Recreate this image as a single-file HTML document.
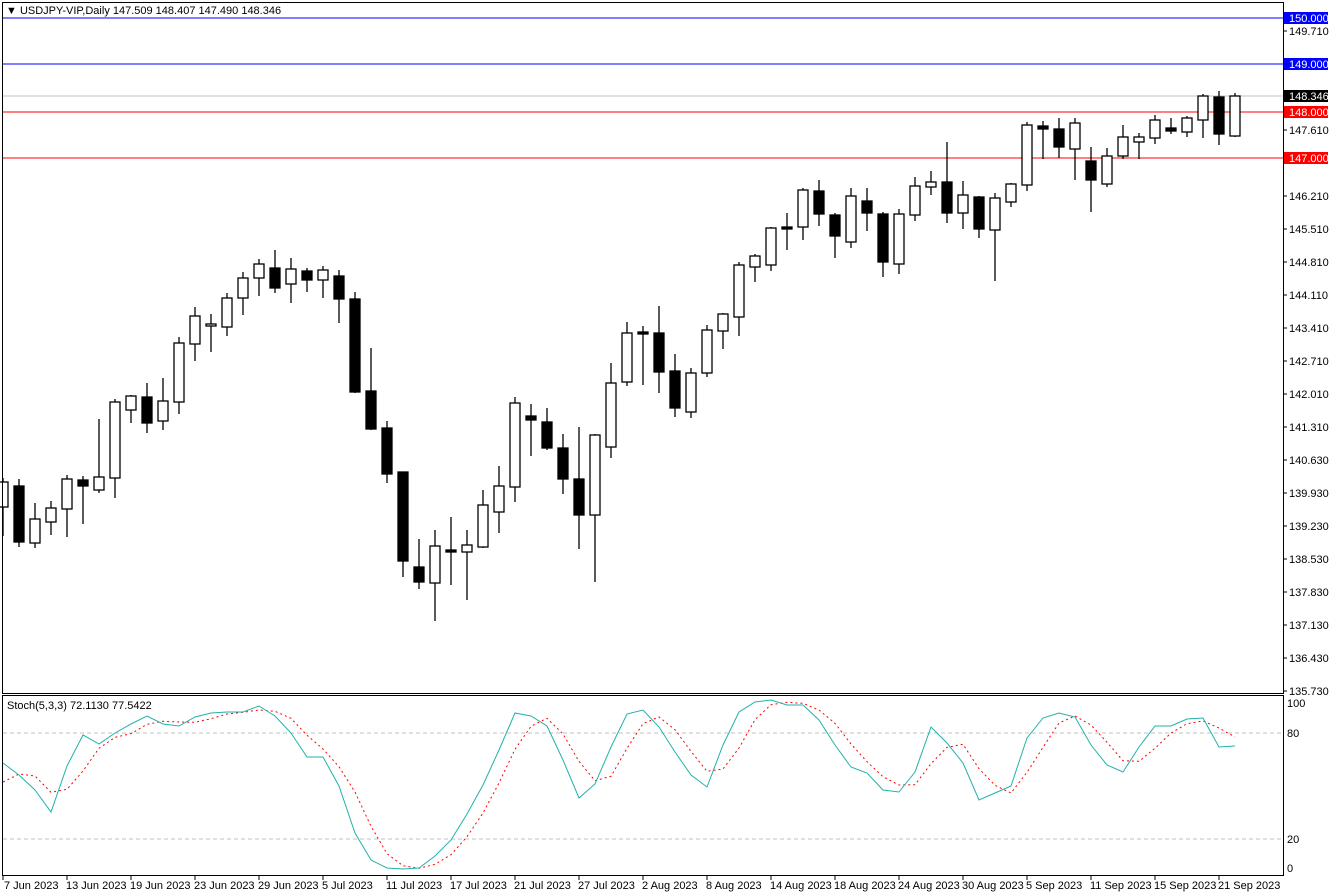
<!DOCTYPE html>
<html><head><meta charset="utf-8"><style>
body{margin:0;background:#fff;}
svg{display:block;font-family:"Liberation Sans",sans-serif;font-size:11px;}
</style></head><body>
<svg id="s" width="1330" height="893" viewBox="0 0 1330 893" xmlns="http://www.w3.org/2000/svg">
<rect width="1330" height="893" fill="#fff"/>
<g id="lines">
<line x1="3" y1="18" x2="1283" y2="18" stroke="#0000ff"/>
<line x1="3" y1="64" x2="1283" y2="64" stroke="#0000ff"/>
<line x1="3" y1="96" x2="1283" y2="96" stroke="#c0c0c0"/>
<line x1="3" y1="112" x2="1283" y2="112" stroke="#ff0000"/>
<line x1="3" y1="158" x2="1283" y2="158" stroke="#ff0000"/>
<line x1="3" y1="733" x2="1283" y2="733" stroke="#c0c0c0" stroke-dasharray="4,3"/>
<line x1="3" y1="839" x2="1283" y2="839" stroke="#c0c0c0" stroke-dasharray="4,3"/>
</g>
<g id="candles"></g>
<g id="stoch"></g>
<rect x="2.5" y="2.5" width="1281" height="691" fill="none" stroke="#000"/>
<rect x="2.5" y="695.5" width="1281" height="180" fill="none" stroke="#000"/>
<text x="6" y="14">▼ USDJPY-VIP,Daily  147.509 148.407 147.490 148.346</text>
<text x="7" y="709">Stoch(5,3,3) 72.1130 77.5422</text>
<g font-size="11" fill="#000">
<text x="1289" y="35">149.710</text>
<text x="1289" y="134">147.610</text>
<text x="1289" y="200">146.210</text>
<text x="1289" y="233">145.510</text>
<text x="1289" y="266">144.810</text>
<text x="1289" y="299">144.110</text>
<text x="1289" y="332">143.410</text>
<text x="1289" y="365">142.710</text>
<text x="1289" y="398">142.010</text>
<text x="1289" y="431">141.310</text>
<text x="1289" y="464">140.630</text>
<text x="1289" y="497">139.930</text>
<text x="1289" y="530">139.230</text>
<text x="1289" y="563">138.530</text>
<text x="1289" y="596">137.830</text>
<text x="1289" y="629">137.130</text>
<text x="1289" y="662">136.430</text>
<text x="1289" y="695">135.730</text>
<text x="1287" y="707">100</text>
<text x="1287" y="737">80</text>
<text x="1287" y="843">20</text>
<text x="1287" y="872">0</text>
</g>
<g stroke="#000">
<line x1="1283" y1="31" x2="1287" y2="31"/><line x1="1283" y1="130" x2="1287" y2="130"/><line x1="1283" y1="196" x2="1287" y2="196"/><line x1="1283" y1="229" x2="1287" y2="229"/><line x1="1283" y1="262" x2="1287" y2="262"/><line x1="1283" y1="295" x2="1287" y2="295"/><line x1="1283" y1="328" x2="1287" y2="328"/><line x1="1283" y1="361" x2="1287" y2="361"/><line x1="1283" y1="394" x2="1287" y2="394"/><line x1="1283" y1="427" x2="1287" y2="427"/><line x1="1283" y1="460" x2="1287" y2="460"/><line x1="1283" y1="493" x2="1287" y2="493"/><line x1="1283" y1="526" x2="1287" y2="526"/><line x1="1283" y1="559" x2="1287" y2="559"/><line x1="1283" y1="592" x2="1287" y2="592"/><line x1="1283" y1="625" x2="1287" y2="625"/><line x1="1283" y1="658" x2="1287" y2="658"/><line x1="1283" y1="691" x2="1287" y2="691"/>
</g>
<rect x="1284" y="12" width="44" height="12" fill="#0000ff"/><text x="1289" y="22" fill="#fff">150.000</text>
<rect x="1284" y="58" width="44" height="12" fill="#0000ff"/><text x="1289" y="68" fill="#fff">149.000</text>
<rect x="1284" y="90" width="44" height="12" fill="#000"/><text x="1289" y="100" fill="#fff">148.346</text>
<rect x="1284" y="106" width="44" height="12" fill="#ff0000"/><text x="1289" y="116" fill="#fff">148.000</text>
<rect x="1284" y="152" width="44" height="12" fill="#ff0000"/><text x="1289" y="162" fill="#fff">147.000</text>
<g font-size="11">
<text x="4" y="889">7 Jun 2023</text>
<text x="66" y="889">13 Jun 2023</text>
<text x="130" y="889">19 Jun 2023</text>
<text x="194" y="889">23 Jun 2023</text>
<text x="258" y="889">29 Jun 2023</text>
<text x="322" y="889">5 Jul 2023</text>
<text x="386" y="889">11 Jul 2023</text>
<text x="450" y="889">17 Jul 2023</text>
<text x="514" y="889">21 Jul 2023</text>
<text x="578" y="889">27 Jul 2023</text>
<text x="642" y="889">2 Aug 2023</text>
<text x="706" y="889">8 Aug 2023</text>
<text x="770" y="889">14 Aug 2023</text>
<text x="834" y="889">18 Aug 2023</text>
<text x="898" y="889">24 Aug 2023</text>
<text x="962" y="889">30 Aug 2023</text>
<text x="1026" y="889">5 Sep 2023</text>
<text x="1090" y="889">11 Sep 2023</text>
<text x="1154" y="889">15 Sep 2023</text>
<text x="1218" y="889">21 Sep 2023</text>
</g>
<g id="ticks" stroke="#000"></g>
</svg>
<script>
var C=[[478,482,507,536,1],[479,486,542,547,0],[503,519,543,548,1],[501,508,522,535,1],[475,479,509,537,1],[476,480,486,524,0],[419,477,490,493,1],[399,402,478,498,1],[395,396,410,423,1],[383,397,423,433,0],[378,401,421,430,1],[337,343,402,414,1],[307,316,344,361,1],[314,324,326,352,1],[293,298,327,336,1],[272,278,298,315,1],[259,264,278,296,1],[250,268,288,293,0],[258,269,284,303,1],[268,271,280,292,0],[266,270,280,298,1],[270,276,299,323,0],[292,299,392,393,0],[348,391,429,430,0],[421,428,474,483,0],[472,472,561,577,0],[539,567,582,589,0],[530,546,583,621,1],[517,550,552,585,0],[530,545,552,600,1],[490,505,547,548,1],[466,486,512,533,1],[397,403,487,502,1],[404,416,420,456,0],[408,422,448,450,0],[434,448,479,494,0],[427,479,515,549,0],[434,435,515,582,1],[363,383,447,458,1],[322,333,382,386,1],[326,332,334,385,0],[306,333,372,393,0],[354,371,408,417,0],[368,373,412,418,1],[325,330,373,377,1],[313,314,331,349,1],[262,265,317,336,1],[254,256,267,282,1],[227,228,265,271,1],[213,227,229,250,0],[188,190,227,240,1],[180,191,214,226,0],[213,215,236,258,0],[188,196,242,248,1],[188,201,213,231,0],[212,214,262,277,0],[209,214,264,274,1],[177,186,215,221,1],[171,182,187,195,1],[142,182,213,223,0],[181,195,213,229,1],[196,197,229,238,0],[193,198,230,281,1],[183,184,202,207,1],[122,125,185,191,1],[121,126,129,159,0],[118,129,147,158,0],[118,123,149,180,1],[147,161,180,212,0],[148,156,184,187,1],[125,137,156,159,1],[133,137,142,159,1],[115,120,138,144,1],[118,128,131,134,0],[116,118,132,137,1],[94,96,120,138,1],[91,97,134,145,0],[93,96,136,137,1]];
var K=[763,775,790,812,766,735,744,733,724,716,724,726,717,713,712,712,706,716,733,757,757,786,833,860,868,869,868,856,840,814,785,750,713,716,726,760,798,784,747,714,710,727,752,775,787,745,712,702,700,705,705,720,745,767,773,790,792,772,727,743,763,800,793,786,738,718,713,717,745,765,772,747,726,726,719,718,747,746];
var ns="http://www.w3.org/2000/svg",h="";
C.forEach(function(c,i){var x=3+16*i;h+='<line x1="'+x+'" y1="'+c[0]+'" x2="'+x+'" y2="'+c[3]+'" stroke="#000" stroke-width="1.3"/>';
var t=c[1],b=Math.max(c[2],c[1]+2);h+='<rect x="'+(x-5)+'" y="'+t+'" width="10" height="'+(b-t)+'" fill="'+(c[4]?'#fff':'#000')+'" stroke="#000" stroke-width="1.3"/>';});
document.getElementById('candles').innerHTML=h;
var pk=[],pd=[];K.forEach(function(v,i){var x=3+16*i;pk.push(x+','+v);var d=i==0?782:i==1?774:(K[i]+K[i-1]+K[i-2])/3;pd.push(x+','+d.toFixed(1));});
document.getElementById('stoch').innerHTML='<polyline points="'+pd.join(' ')+'" fill="none" stroke="#ff0000" stroke-dasharray="2,3"/><polyline points="'+pk.join(' ')+'" fill="none" stroke="#20b2aa" stroke-width="1"/>';
var t="";for(var i=0;i<78;i+=4){var x=3+16*i;t+='<line x1="'+x+'" y1="875" x2="'+x+'" y2="880"/>';}
document.getElementById('ticks').innerHTML=t;
</script>
</body></html>
